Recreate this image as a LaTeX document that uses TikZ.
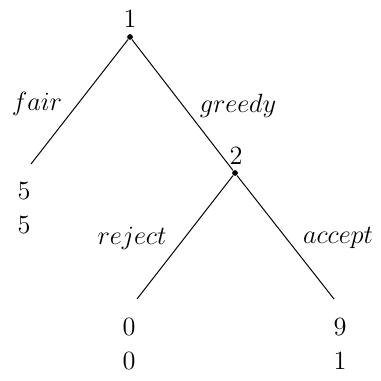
\documentclass[tikz,border=0pt]{standalone}
\usepackage{amsmath}
\usepackage{tikz}
\tikzset{
  decision/.style={circle,fill,inner sep=0pt,minimum size=2.6pt},
  every node/.append style={font=\fontsize{12}{15.5}\selectfont},
  payoff/.style={align=center},
}

\begin{document}
\begin{tikzpicture}[x=0.016cm,y=-0.016cm,line width=0.45pt]
\useasboundingbox (0,0) rectangle (381,381);
\node[decision] (root) at (130,37){};
\node[decision] (second) at (235,173){};
\coordinate (fairEnd) at (31,164);
\coordinate (rejectEnd) at (137,299);
\coordinate (acceptEnd) at (334,299);
\draw (root) -- (fairEnd);
\draw (root) -- (second);
\draw (second) -- (rejectEnd);
\draw (second) -- (acceptEnd);
\node (rootLabel) at (130,19){$1$};
\node (secondLabel) at (236,156){$2$};
\node (fairLabel) at (37,104){$fair$};
\node (greedyLabel) at (238,106){$greedy$};
\node (rejectLabel) at (132,238){$reject$};
\node (acceptLabel) at (338,238){$accept$};
\node[payoff] (fairPay) at (24,208){$5$\\$5$};
\node[payoff] (rejectPay) at (129,344){$0$\\$0$};
\node[payoff] (acceptPay) at (340,344){$9$\\$1$};
\end{tikzpicture}
\end{document}
